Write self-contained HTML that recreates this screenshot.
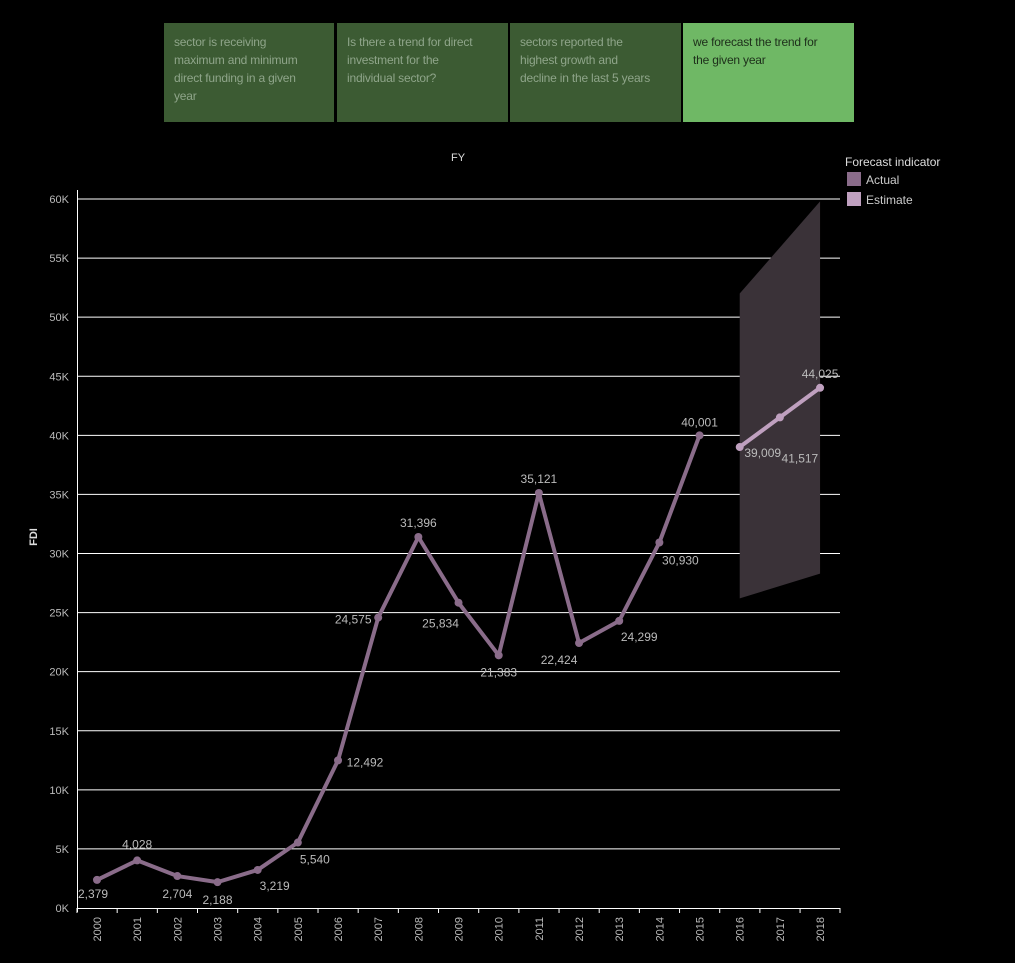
<!DOCTYPE html>
<html><head><meta charset="utf-8"><style>
body{margin:0;background:#000;width:1015px;height:963px;overflow:hidden;font-family:"Liberation Sans","DejaVu Sans",sans-serif}
.box{position:absolute;top:23px;height:99px;width:161px;padding:10px;box-sizing:border-box;font-size:12px;line-height:18px;color:#8fa58a;background:#3c5b33;letter-spacing:-0.2px;white-space:nowrap}
</style></head><body>
<div class="box" style="left:164px;width:170px">sector is receiving<br>maximum and minimum<br>direct funding in a given<br>year</div>
<div class="box" style="left:337px;width:171px">Is there a trend for direct<br>investment for the<br>individual sector?</div>
<div class="box" style="left:510px;width:171px">sectors reported the<br>highest growth and<br>decline in the last 5 years</div>
<div class="box" style="left:683px;width:171px;background:#6fb865;color:#1d2e1a">we forecast the trend for<br>the given year</div>
<svg id="chart" width="1015" height="963" style="position:absolute;left:0;top:0"></svg>
<script>
const years=[2000,2001,2002,2003,2004,2005,2006,2007,2008,2009,2010,2011,2012,2013,2014,2015,2016,2017,2018];
const actual=[2379,4028,2704,2188,3219,5540,12492,24575,31396,25834,21383,35121,22424,24299,30930,40001];
const estimateYears=[2016,2017,2018];
const estimate=[39009,41517,44025];
const bandUpper=[52000,55900,59800];
const bandLower=[26200,27250,28300];
const yTicks=[0,5000,10000,15000,20000,25000,30000,35000,40000,45000,50000,55000,60000];
const yTickLabels=["0K","5K","10K","15K","20K","25K","30K","35K","40K","45K","50K","55K","60K"];
const lblOff=[[-4,14],[0,-16],[0,18],[0,18],[17,16],[17,17],[27,2],[-25,2],[0,-14],[-18,21],[0,17],[0,-14],[-20,17],[20,16],[21,18],[0,-13]];
const estOff=[[23,6],[20,41],[0,-14]];
const NS="http://www.w3.org/2000/svg",svg=document.getElementById('chart');
const x=y=>97+(y-2000)*40.17, yS=v=>908-v*(709/60000);
function el(t,a,p){const e=document.createElementNS(NS,t);for(const k in a)e.setAttribute(k,a[k]);(p||svg).appendChild(e);return e;}
const fmt=v=>v.toLocaleString('en-US');
yTicks.forEach((t,i)=>{
 if(t>0){const g=el('line',{x1:77,x2:840,y1:yS(t),y2:yS(t),stroke:'#fff','stroke-width':1});
 
 }
 const l=el('text',{x:69,y:yS(t)+4,'text-anchor':'end',fill:'#bbb','font-size':11});l.textContent=yTickLabels[i];
 
 
});
const ax=el('line',{x1:77,x2:840,y1:908.5,y2:908.5,stroke:'#fff'});


const ay=el('line',{x1:77.5,x2:77.5,y1:190,y2:912,stroke:'#fff'});


years.forEach((y,i)=>{
 el('line',{x1:x(y)-20,x2:x(y)-20,y1:908,y2:913,stroke:'#fff'});
 const t=el('text',{transform:`translate(${x(y)+4},${917}) rotate(-90)`,'text-anchor':'end',fill:'#bbb','font-size':11});t.textContent=y;
 
 
});
el('line',{x1:840,x2:840,y1:908,y2:913,stroke:'#fff'});
let pts=estimateYears.map((y,i)=>x(y)+','+yS(bandUpper[i])).concat(estimateYears.slice().reverse().map((y,j)=>x(y)+','+yS(bandLower[2-j])));
const band=el('polygon',{points:pts.join(' '),fill:'#3a3238'});


const aLine=el('polyline',{points:actual.map((v,i)=>x(years[i])+','+yS(v)).join(' '),fill:'none',stroke:'#8a6c8a','stroke-width':4,'stroke-linejoin':'round'});


const eLine=el('polyline',{points:estimate.map((v,i)=>x(estimateYears[i])+','+yS(v)).join(' '),fill:'none',stroke:'#bfa0bf','stroke-width':4});


function pt(px,v,c,off){
 const p=el('circle',{cx:px,cy:yS(v),r:4,fill:c});
 
 
 const t=el('text',{x:px+off[0],y:yS(v)+off[1]+4,'text-anchor':'middle',fill:'#bbb','font-size':12});t.textContent=fmt(v);
 
 
}
actual.forEach((v,i)=>pt(x(years[i]),v,'#8a6c8a',lblOff[i]));
estimate.forEach((v,i)=>pt(x(estimateYears[i]),v,'#bfa0bf',estOff[i]));
const ft=el('text',{x:458,y:161,'text-anchor':'middle',fill:'#ddd','font-size':11});ft.textContent='FY';


const yt=el('text',{transform:'translate(37,537) rotate(-90)','text-anchor':'middle',fill:'#ddd','font-size':11,'font-weight':'bold'});yt.textContent='FDI';


const lt=el('text',{x:845,y:166,fill:'#ddd','font-size':12});lt.textContent='Forecast indicator';


[['Actual','#8a6c8a'],['Estimate','#bfa0bf']].forEach((d,i)=>{
 const g=el('g',{});
 
 
 el('rect',{x:847,y:172+i*20,width:14,height:14,fill:d[1]},g);
 const t=el('text',{x:866,y:184+i*20,fill:'#ccc','font-size':12},g);t.textContent=d[0];
});
</script>
</body></html>
